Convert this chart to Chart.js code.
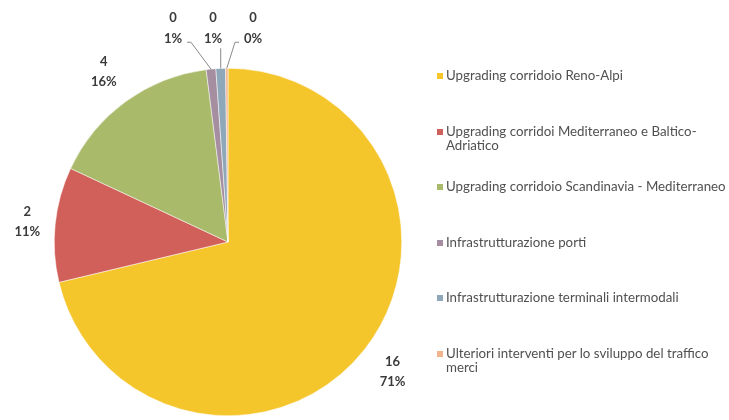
<!DOCTYPE html>
<html lang="it">
<head>
<meta charset="utf-8">
<title>Ripartizione interventi</title>
<script src="https://cdn.jsdelivr.net/npm/chart.js@4.4.1/dist/chart.umd.min.js"></script>
<style>
  html, body { margin: 0; padding: 0; background: #fff; }
  #wrap { position: relative; width: 729px; height: 420px; overflow: hidden; }
  #pie { position: absolute; left: 0; top: 0; }
  #legend {
    position: absolute; left: 437px; top: 68px; width: 292px;
    margin: 0; padding: 0; list-style: none;
    font-family: Lato, 'Open Sans', sans-serif; font-size: 13.3px; line-height: 14px; color: #505050;
  }
  #legend li { height: 55.6px; display: flex; align-items: flex-start; }
  #legend .box { flex: 0 0 6px; height: 6px; margin: 5px 3px 0 0; }
  #legend .txt { flex: 0 1 auto; }
</style>
</head>
<body>
<div id="wrap">
  <canvas id="pie" width="729" height="420"></canvas>
  <ul id="legend"></ul>
</div>
<script>
// --- Data ---
const categories = [
  'Upgrading corridoio Reno-Alpi',
  'Upgrading corridoi Mediterraneo e Baltico-Adriatico',
  'Upgrading corridoio Scandinavia - Mediterraneo',
  'Infrastrutturazione porti',
  'Infrastrutturazione terminali intermodali',
  'Ulteriori interventi per lo sviluppo del traffico merci'
];
const amounts = [16, 2.4, 3.6, 0.2, 0.2, 0.05];
const sliceColors = ['#F5C52C', '#D2605A', '#A9BB6A', '#A48E9F', '#8FA8B9', '#F2B48C'];

const total = amounts.reduce((a, b) => a + b, 0);

// --- Outside labels: value + percent, small slices get a row above with leader lines ---
const pieLabels = {
  id: 'pieLabels',
  afterDatasetsDraw(chart) {
    const ctx = chart.ctx;
    const arcs = chart.getDatasetMeta(0).data;
    const smallIdx = [];
    ctx.save();
    ctx.font = 'bold 13px Lato, "Open Sans", sans-serif';
    ctx.fillStyle = '#3a3a3a';
    ctx.textAlign = 'center';
    ctx.textBaseline = 'middle';

    arcs.forEach((arc, i) => {
      const pct = amounts[i] / total * 100;
      if (pct < 3) { smallIdx.push(i); return; }
      const mid = (arc.startAngle + arc.endAngle) / 2;
      const cx = Math.cos(mid), cy = Math.sin(mid);
      // push the label box clear of the rim, box is about 24 x 40
      const d = arc.outerRadius + 14 + Math.abs(cx) * 12 + Math.abs(cy) * 20;
      const x = arc.x + cx * d;
      const y = arc.y + cy * d;
      ctx.fillText(Math.round(amounts[i]).toString(), x, y - 10);
      ctx.fillText(Math.round(pct) + '%', x, y + 10);
    });

    // small slices near the top: labels in a row, joined by thin grey lines
    smallIdx.forEach((i, k) => {
      const arc = arcs[i];
      const pct = amounts[i] / total * 100;
      const lx = arc.x - 55 + k * 40;
      const top = arc.y - arc.outerRadius - 50;
      ctx.fillStyle = '#3a3a3a';
      ctx.fillText(Math.round(amounts[i]).toString(), lx, top);
      ctx.fillText(Math.round(pct) + '%', lx, top + 21);

      const mid = (arc.startAngle + arc.endAngle) / 2;
      const ex = arc.x + Math.cos(mid) * arc.outerRadius;
      const ey = arc.y + Math.sin(mid) * arc.outerRadius;
      ctx.strokeStyle = '#8a8a8a';
      ctx.lineWidth = 1;
      ctx.beginPath();
      if (Math.abs(ex - lx) < 12) {
        ctx.moveTo(ex, top + 30);
      } else {
        const side = ex > lx ? 1 : -1;
        ctx.moveTo(lx + side * 14, top + 24);
        ctx.lineTo(lx + side * 18, top + 24);
      }
      ctx.lineTo(ex, ey);
      ctx.stroke();
    });
    ctx.restore();
  }
};

// --- Chart ---
new Chart(document.getElementById('pie'), {
  type: 'pie',
  data: {
    labels: categories,
    datasets: [{
      data: amounts,
      backgroundColor: sliceColors,
      borderColor: '#fff',
      borderWidth: 0.5
    }]
  },
  options: {
    responsive: false,
    animation: false,
    layout: { padding: { left: 54, top: 68, right: 327, bottom: 4 } },
    plugins: {
      legend: { display: false },
      tooltip: { enabled: false }
    }
  },
  plugins: [pieLabels]
});

// --- Legend ---
const legendEl = document.getElementById('legend');
categories.forEach((name, i) => {
  const li = document.createElement('li');
  li.innerHTML = `<span class="box" style="background:${sliceColors[i]}"></span><span class="txt">${name}</span>`;
  legendEl.appendChild(li);
});
</script>
</body>
</html>
